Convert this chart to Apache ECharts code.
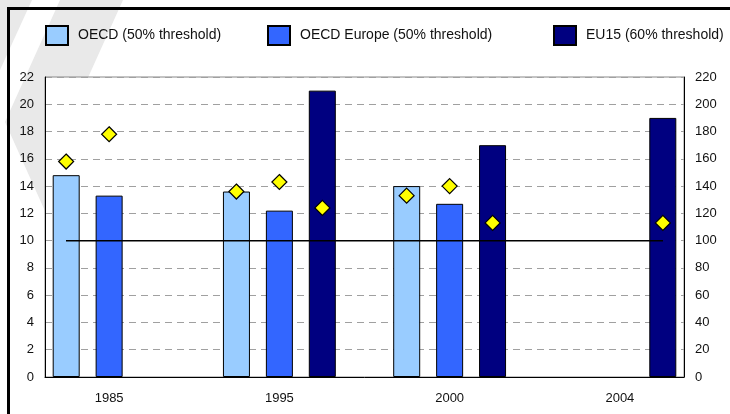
<!DOCTYPE html>
<html>
<head>
<meta charset="utf-8">
<script src="https://cdn.jsdelivr.net/npm/echarts@6/dist/echarts.min.js"></script>
<style>
  html, body { margin: 0; padding: 0; background: #fff; }
  #chart { width: 730px; height: 414px; }
</style>
</head>
<body>
<div id="chart"></div>
<script>
// categories
const years = ['1985', '1995', '2000', '2004']

// bars, left axis
const oecd = [14.8, 13.6, 14.0, null]
const oecdEurope = [13.3, 12.2, 12.7, null]
const eu15 = [null, 21.0, 17.0, 19.0]

// diamonds, right axis
const oecdIndex = [158, 136, 133, null]
const europeIndex = [178, 143, 140, null]
const eu15Index = [null, 124, 113, 113]

// reference line at 100
const baseline = [100, 100, 100, 100]

const names = ['OECD (50% threshold)', 'OECD Europe (50% threshold)', 'EU15 (60% threshold)']
const colors = ['#99ccff', '#3366ff', '#000080']

const FONT = 'Liberation Sans, Arial, sans-serif'
const TXT = '#111'

const chart = echarts.init(document.getElementById('chart'))

const barSeries = [oecd, oecdEurope, eu15].map((d, i) => ({
  name: names[i],
  type: 'bar',
  xAxisIndex: 1,
  yAxisIndex: 2,
  barWidth: 27,
  barGap: '59%',
  data: d,
  itemStyle: { color: colors[i], borderColor: '#000', borderWidth: 1 },
  z: 3
}))

const diamondSeries = [oecdIndex, europeIndex, eu15Index].map((d, i) => ({
  name: 'idx' + i,
  type: 'scatter',
  xAxisIndex: 1,
  yAxisIndex: 3,
  symbol: 'diamond',
  symbolSize: 15,
  symbolOffset: [(i - 1) * 43, 0],
  data: d,
  itemStyle: { color: '#ffff00', borderColor: '#000', borderWidth: 1.2, opacity: 1 },
  z: 6
}))

chart.setOption({
  animation: false,
  backgroundColor: '#fff',
  textStyle: { fontFamily: FONT },
  graphic: [
    // faint watermark chevrons
    { type: 'polygon', z: -10, shape: { points: [[0, 0], [32, 0], [0, 70]] }, style: { fill: '#e9e9e9' } },
    { type: 'polygon', z: -10, shape: { points: [[60, 0], [123, 0], [68, 122], [130, 260], [67, 260], [5, 122]] }, style: { fill: '#e9e9e9' } },
    // chart frame
    { type: 'rect', z: 100, shape: { x: 8.5, y: 8.5, width: 760, height: 460 }, style: { fill: 'none', stroke: '#000', lineWidth: 3 } }
  ],
  legend: names.map((n, i) => ({
    data: [n],
    left: [45, 267, 553][i],
    top: 25,
    padding: 0,
    icon: 'rect',
    itemWidth: 22,
    itemHeight: 19,
    selectedMode: false,
    textStyle: { fontSize: 14, color: TXT, fontFamily: FONT, padding: [0, 0, 0, 5] }
  })),
  grid: [
    { left: 45, right: 46, top: 77, bottom: 37, show: true, backgroundColor: '#fff', borderColor: '#888', borderWidth: 1, z: 0 },
    { left: 24, right: 25, top: 77, bottom: 37 },
    { left: 66, right: 67, top: 77, bottom: 37 }
  ],
  xAxis: [
    {
      gridIndex: 0, type: 'category', data: years,
      axisLine: { lineStyle: { color: '#000', width: 1 } },
      axisTick: { show: false }, axisLabel: { show: false }, splitLine: { show: false }
    },
    {
      gridIndex: 1, type: 'category', data: years,
      axisLine: { show: false }, axisTick: { show: false },
      axisLabel: { color: TXT, fontSize: 13, margin: 15, fontFamily: FONT }
    },
    {
      gridIndex: 2, type: 'category', data: years, boundaryGap: false, show: false
    }
  ],
  yAxis: [
    {
      gridIndex: 0, type: 'value', position: 'left', min: 0, max: 22, interval: 2,
      axisLine: { show: true, lineStyle: { color: '#000' } }, axisTick: { show: false },
      axisLabel: { color: TXT, fontSize: 13, margin: 11, fontFamily: FONT },
      splitLine: { lineStyle: { color: '#a0a0a0', type: [7, 5], width: 1 } }
    },
    {
      gridIndex: 0, type: 'value', position: 'right', min: 0, max: 220, interval: 20,
      axisLine: { show: true, lineStyle: { color: '#000' } }, axisTick: { show: false },
      axisLabel: { color: TXT, fontSize: 13, margin: 11, fontFamily: FONT },
      splitLine: { show: false }
    },
    { gridIndex: 1, type: 'value', min: 0, max: 22, show: false },
    { gridIndex: 1, type: 'value', min: 0, max: 220, show: false },
    { gridIndex: 2, type: 'value', min: 0, max: 220, show: false }
  ],
  series: [
    ...barSeries,
    {
      name: 'baseline',
      type: 'line',
      xAxisIndex: 2,
      yAxisIndex: 4,
      data: baseline,
      symbol: 'none',
      lineStyle: { color: '#000', width: 1.5 },
      z: 5
    },
    ...diamondSeries
  ]
})
</script>
</body>
</html>
